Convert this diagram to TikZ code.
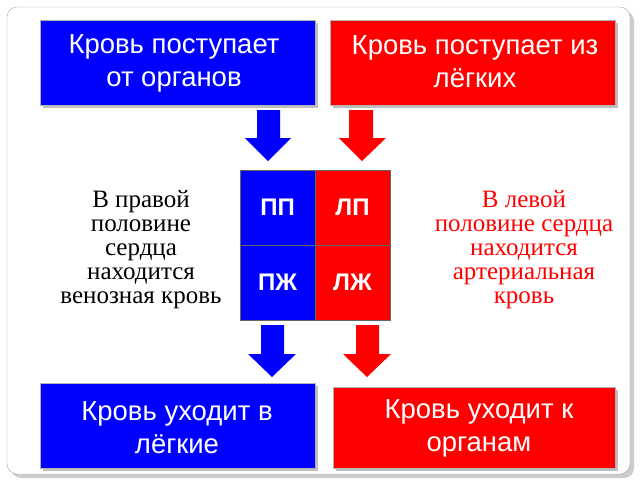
\documentclass[tikz,border=0pt]{standalone}
\usepackage{fontspec}
\setmainfont{Liberation Serif}
\setsansfont{Liberation Sans}
\definecolor{bl}{RGB}{0,0,255}
\definecolor{rd}{RGB}{255,0,0}
\begin{document}
\begin{tikzpicture}[x=1pt,y=-1pt,
 box/.style={draw=gray!60,line width=0.6pt,minimum width=#1,inner sep=0pt},
 lab/.style={text=white,font=\sffamily\fontsize{27.5}{33}\selectfont,align=center},
 side/.style={font=\fontsize{25}{24}\selectfont,align=center},
 cell/.style={minimum width=75pt,minimum height=75pt,inner sep=0pt,font=\sffamily\bfseries\fontsize{24}{26}\selectfont,text=white,draw=black!60,line width=0.4pt}]
\useasboundingbox (0,0) rectangle (640,480);
\fill[gray!40,rounded corners=10pt] (11,11) rectangle (634,478);
\draw[gray!70,fill=white,rounded corners=10pt] (7,7) rectangle (630,474);
% top boxes
\fill[gray!50] (43,23) rectangle (318,108);
\node[box=275pt,fill=bl,minimum height=85pt] (tb) at (177.5,62.5) {};
\node[lab] (tbt) at (174,63) {Кровь поступает\\от органов};
\fill[gray!50] (333,23) rectangle (618,108);
\node[box=285pt,fill=rd,minimum height=85pt] (tr) at (472.5,62.5) {};
\node[lab] (trt) at (475,62) {Кровь поступает из\\лёгких};
% bottom boxes
\fill[gray!50] (43,386) rectangle (318,471);
\node[box=275pt,fill=bl,minimum height=85pt] (bb) at (177.5,425.5) {};
\node[lab] (bbt) at (177,428) {Кровь уходит в\\лёгкие};
\fill[gray!50] (336,390) rectangle (618,471);
\node[box=282pt,fill=rd,minimum height=81pt] (br) at (474,427.5) {};
\node[lab] (brt) at (479,428) {Кровь уходит к\\органам};
% heart
\node[cell,fill=bl] (pp) at (277.5,207.5) {ПП};
\node[cell,fill=rd] (lp) at (352.5,207.5) {ЛП};
\node[cell,fill=bl] (pz) at (277.5,282.5) {ПЖ};
\node[cell,fill=rd] (lz) at (352.5,282.5) {ЛЖ};
% arrows
\fill[bl] (257,110) -- (280,110) -- (280,138) -- (291,138) -- (268,161) -- (245,138) -- (257,138) -- cycle;
\fill[rd] (349,110) -- (373,110) -- (373,138) -- (386,138) -- (362,161) -- (339,138) -- (349,138) -- cycle;
\fill[bl] (261,325) -- (284,325) -- (284,354) -- (296,354) -- (272,377) -- (248,354) -- (261,354) -- cycle;
\fill[rd] (356,325) -- (379,325) -- (379,354) -- (391,354) -- (367,377) -- (343,354) -- (356,354) -- cycle;
% side texts
\node[side] (lt) at (141,250) {В правой\\половине\\сердца\\находится\\венозная кровь};
\node[side,text=rd] (rt) at (524,250) {В левой\\половине сердца\\находится\\артериальная\\кровь};
\end{tikzpicture}
\end{document}
